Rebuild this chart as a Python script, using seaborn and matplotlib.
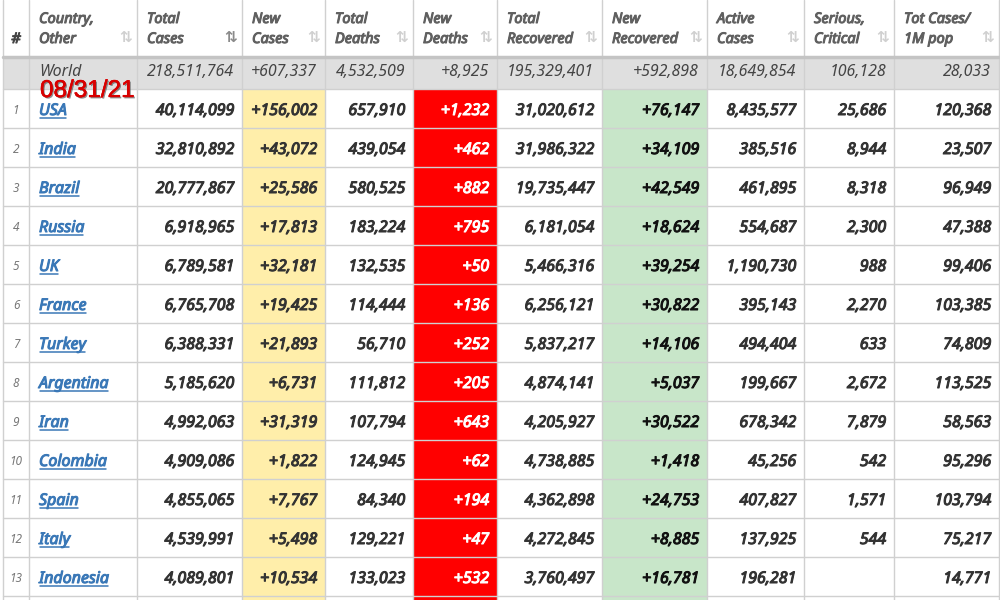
import matplotlib
matplotlib.use("Agg")
import matplotlib.pyplot as plt
import matplotlib.patheffects as pe
import seaborn as sns

# table data
headers = ["#", "Country,\nOther", "Total\nCases", "New\nCases", "Total\nDeaths", "New\nDeaths",
           "Total\nRecovered", "New\nRecovered", "Active\nCases", "Serious,\nCritical", "Tot Cases/\n1M pop"]
world = ["218,511,764", "+607,337", "4,532,509", "+8,925", "195,329,401",
         "+592,898", "18,649,854", "106,128", "28,033"]
countries = ["USA", "India", "Brazil", "Russia", "UK", "France", "Turkey", "Argentina",
             "Iran", "Colombia", "Spain", "Italy", "Indonesia"]
total_cases = [40114099, 32810892, 20777867, 6918965, 6789581, 6765708, 6388331, 5185620,
               4992063, 4909086, 4855065, 4539991, 4089801]
new_cases = [156002, 43072, 25586, 17813, 32181, 19425, 21893, 6731, 31319, 1822, 7767, 5498, 10534]
total_deaths = [657910, 439054, 580525, 183224, 132535, 114444, 56710, 111812, 107794,
                124945, 84340, 129221, 133023]
new_deaths = [1232, 462, 882, 795, 50, 136, 252, 205, 643, 62, 194, 47, 532]
total_recovered = [31020612, 31986322, 19735447, 6181054, 5466316, 6256121, 5837217, 4874141,
                   4205927, 4738885, 4362898, 4272845, 3760497]
new_recovered = [76147, 34109, 42549, 18624, 39254, 30822, 14106, 5037, 30522, 1418, 24753, 8885, 16781]
active_cases = [8435577, 385516, 461895, 554687, 1190730, 395143, 494404, 199667, 678342,
                45256, 407827, 137925, 196281]
serious = [25686, 8944, 8318, 2300, 988, 2270, 633, 2672, 7879, 542, 1571, 544, None]
per_million = [120368, 23507, 96949, 47388, 99406, 103385, 74809, 113525, 58563, 95296,
               103794, 75217, 14771]
date_label = "08/31/21"

# layout
edges = [3, 29, 137, 242, 325, 413, 497, 602, 707, 804, 894, 999]
header_h = 57
world_top, world_bot = 58, 89
row_h = 39
n_rows = len(countries)

sns.set_theme(style="white")
plt.rcParams["font.family"] = ["Noto Sans", "DejaVu Sans"]


def bold(color, w=0.75):
    # the installed italic has no bold cut, so thicken the strokes
    return [pe.Stroke(linewidth=w, foreground=color), pe.Normal()]


fig = plt.figure(figsize=(10, 6), dpi=100)
ax = fig.add_axes([0, 0, 1, 1])
ax.set_xlim(0, 1000)
ax.set_ylim(600, 0)
ax.axis("off")

grid = "#d0d0d0"
col_bg = {3: "#ffeeaa", 5: "#ff0000", 7: "#c8e6c9"}

# backgrounds
ax.fill_between([edges[0], edges[-1]], world_top, world_bot, color="#dfdfdf", lw=0)
for c, colr in col_bg.items():
    ax.fill_between([edges[c], edges[c + 1]], world_bot, 600, color=colr, lw=0)

# grid
for x in edges:
    ax.plot([x, x], [0, 600], color=grid, lw=1)
ax.plot([edges[0], edges[-1]], [header_h, header_h], color="#c4c4c4", lw=2.5)
for i in range(n_rows + 1):
    y = world_bot + i * row_h
    ax.plot([edges[0], edges[-1]], [y, y], color=grid, lw=1)

# header
hcol = "#606060"
ax.text(16, 43, "#", ha="center", va="baseline", fontsize=10.5, style="italic",
        color="#444444", path_effects=bold("#444444"))
for j in range(1, len(headers)):
    top, bot = headers[j].split("\n")
    for yb, s in ((23, top), (43, bot)):
        ax.text(edges[j] + 10, yb, s, ha="left", va="baseline", fontsize=10.5,
                style="italic", color=hcol, path_effects=bold(hcol))
    icon_col = "#8a8a8a" if j == 2 else "#d0d0d0"
    ax.text(edges[j + 1] - 11, 38, "⇅", ha="center", va="center", fontsize=11,
            color=icon_col, family="DejaVu Sans", fontweight="bold")

# world row
wy = 76
ax.text(39, wy, "World", ha="left", va="baseline", fontsize=11.5, style="italic", color="#444444")
for j, v in enumerate(world):
    ax.text(edges[j + 3] - 8, wy, v, ha="right", va="baseline", fontsize=11.5,
            style="italic", color="#444444")

# body rows
columns = [total_cases, new_cases, total_deaths, new_deaths, total_recovered,
           new_recovered, active_cases, serious, per_million]
plus = [False, True, False, True, False, True, False, False, False]
links = []
for i in range(n_rows):
    yc = world_bot + row_h * i + row_h / 2
    base = yc + 6.5
    ax.text(16, base - 1, str(i + 1), ha="center", va="baseline", fontsize=8.5,
            style="italic", color="#777777")
    t = ax.text(39, base, countries[i], ha="left", va="baseline", fontsize=11.5,
                style="italic", color="#3a78b7", path_effects=bold("#3a78b7"))
    links.append((t, base))
    for j, col in enumerate(columns):
        v = col[i]
        if v is None:
            continue
        s = f"+{v:,}" if plus[j] else f"{v:,}"
        c = j + 2
        colr = "white" if c == 5 else ("#111111" if c == 7 else "#333333")
        ax.text(edges[c + 1] - 8, base, s, ha="right", va="baseline", fontsize=11.5,
                style="italic", color=colr, path_effects=bold(colr))

# underline the country links
fig.canvas.draw()
r = fig.canvas.get_renderer()
for t, base in links:
    bb = t.get_window_extent(renderer=r)
    ax.plot([bb.x0 + 1, bb.x1 - 1], [base + 2.5, base + 2.5], color="#3a78b7", lw=1.1)

# date stamp
ax.text(40, 97, date_label, ha="left", va="baseline", fontsize=17.5, color="#d80000",
        family="Liberation Sans",
        path_effects=[pe.withSimplePatchShadow(offset=(1, -1), shadow_rgbFace="#333333", alpha=0.55),
                      pe.Stroke(linewidth=0.35, foreground="#d80000"), pe.Normal()])

fig.savefig("out.png", dpi=100)
